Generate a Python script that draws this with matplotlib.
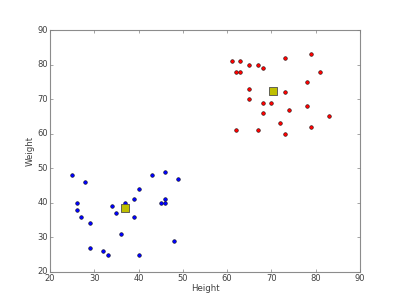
import matplotlib
matplotlib.use("Agg")
import matplotlib.pyplot as plt

plt.style.use("classic")

blue_height = [25, 28, 26, 26, 27, 29, 29, 32, 33, 34, 35, 36, 37, 39, 39, 40, 40, 43, 46, 45, 46, 46, 49, 48]
blue_weight = [48, 46, 40, 38, 36, 34, 27, 26, 25, 39, 37, 31, 40, 41, 36, 44, 25, 48, 49, 40, 41, 40, 47, 29]
red_height = [61, 63, 65, 67, 68, 73, 79, 62, 63, 81, 78, 65, 73, 65, 68, 70, 74, 78, 68, 83, 72, 79, 62, 67, 73]
red_weight = [81, 81, 80, 80, 79, 82, 83, 78, 78, 78, 75, 73, 72, 70, 69, 69, 67, 68, 66, 65, 63, 62, 61, 61, 60]
centroid_height = [36.9, 70.4]
centroid_weight = [38.4, 72.3]

fig = plt.figure(figsize=(4.0, 3.02), dpi=100)
ax = fig.add_axes([0.125, 0.1, 0.775, 0.8])
ax.scatter(blue_height, blue_weight, s=7, c="b", edgecolors="k", linewidths=0.35, zorder=3)
ax.scatter(red_height, red_weight, s=7, c="r", edgecolors="k", linewidths=0.35, zorder=3)
ax.scatter(centroid_height, centroid_weight, s=26, marker="s", c="#bfbf00",
           edgecolors="0.3", linewidths=0.6, zorder=4)
ax.set_xlim(20, 90)
ax.set_ylim(20, 90)
ax.set_xticks(range(20, 91, 10))
ax.set_yticks(range(20, 91, 10))
ax.tick_params(labelsize=6, length=2.5, width=0.5, color="0.5", labelcolor="0.25", pad=1.5)
for s in ax.spines.values():
    s.set_color("0.55")
    s.set_linewidth(0.8)
ax.set_xlabel("Height", fontsize=6.2, color="0.25", labelpad=1)
ax.set_ylabel("Weight", fontsize=6.2, color="0.25", labelpad=2)
fig.savefig("out.png", dpi=100, facecolor="white")
